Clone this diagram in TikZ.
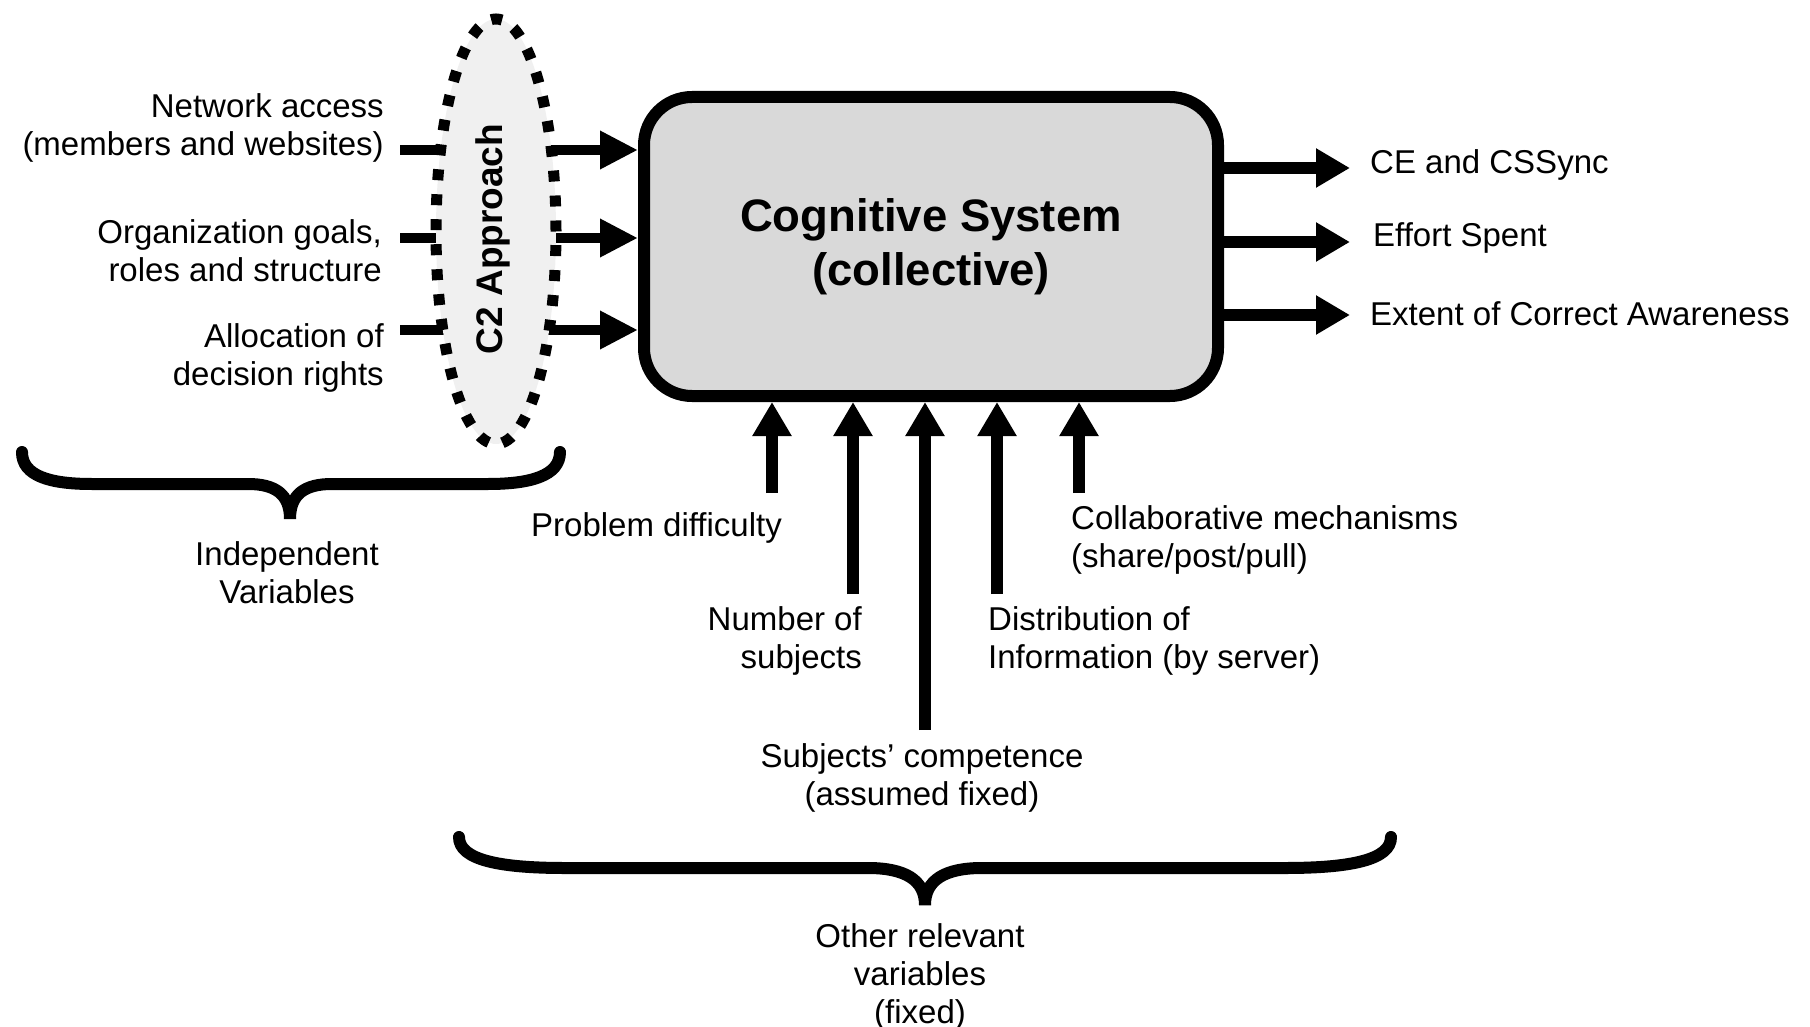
\documentclass[tikz,border=0pt]{standalone}
\usepackage{fontspec}
\setmainfont{Liberation Sans}
\usetikzlibrary{arrows.meta,shapes.geometric}
\definecolor{boxgray}{RGB}{217,217,217}
\definecolor{ellgray}{RGB}{240,240,240}
\begin{document}
\begin{tikzpicture}[x=1pt,y=-1pt,
  txt/.style={font=\fontsize{33}{38}\selectfont, inner sep=0pt},
  arr/.style={line width=12pt, -{Triangle[length=34pt,width=37pt]}},
  inarr/.style={line width=10pt, -{Triangle[length=38pt,width=36pt]}},
  bracepath/.style={line width=12pt, line cap=round},
  sysbox/.style={draw, line width=12pt, fill=boxgray, rounded corners=48pt,
    minimum width=574pt, minimum height=299pt, inner sep=0pt, align=center,
    font=\bfseries\fontsize{45.5}{54}\selectfont},
  c2ell/.style={draw, ellipse, line width=11pt, dash pattern=on 11pt off 14pt,
    fill=ellgray, minimum width=120pt, minimum height=425pt, inner sep=0pt}]
\useasboundingbox (0,0) rectangle (1810,1027);

% central box
\node[sysbox] (cs) at (931,246.5) {Cognitive System\\(collective)};

% left inputs
\node[txt, anchor=east, align=right] (n1) at (384,128) {Network access\\(members and websites)};
\node[txt, anchor=east, align=right] (n2) at (382,251) {Organization goals,\\roles and structure};
\node[txt, anchor=east, align=right] (n3) at (384,358) {Allocation of\\decision rights};
\coordinate (a1) at (400,150);
\coordinate (a2) at (400,238);
\coordinate (a3) at (400,330);
\draw[inarr] (a1) -- (a1 -| cs.west);
\draw[inarr] (a2) -- (a2 -| cs.west);
\draw[inarr] (a3) -- (a3 -| cs.west);

% C2 approach ellipse
\node[c2ell] (c2) at (496,231.5) {};
\node[rotate=90, inner sep=0pt, font=\bfseries\fontsize{37}{42}\selectfont] (c2t) at (493,239) {C2 Approach};

% outputs
\coordinate (r1) at (1350,168);
\coordinate (r2) at (1350,242);
\coordinate (r3) at (1350,315);
\draw[arr] (r1 -| cs.east) -- (r1);
\draw[arr] (r2 -| cs.east) -- (r2);
\draw[arr] (r3 -| cs.east) -- (r3);
\node[txt, anchor=west] (o1) at (1370,165) {CE and CSSync};
\node[txt, anchor=west] (o2) at (1373,238) {Effort Spent};
\node[txt, anchor=west] (o3) at (1370,314) {Extent of Correct Awareness};

% bottom inputs
\coordinate (b1) at (772,493);
\coordinate (b2) at (853,594);
\coordinate (b3) at (925,730);
\coordinate (b4) at (997,594);
\coordinate (b5) at (1079,493);
\draw[arr] (b1) -- (b1 |- cs.south);
\draw[arr] (b2) -- (b2 |- cs.south);
\draw[arr] (b3) -- (b3 |- cs.south);
\draw[arr] (b4) -- (b4 |- cs.south);
\draw[arr] (b5) -- (b5 |- cs.south);

\node[txt, anchor=west] (pd) at (531,528) {Problem difficulty};
\node[txt, anchor=west, align=left] (cm) at (1071,540) {Collaborative mechanisms\\(share/post/pull)};
\node[txt, anchor=east, align=right] (ns) at (862,641) {Number of\\subjects};
\node[txt, anchor=west, align=left] (di) at (988,641) {Distribution of\\Information (by server)};
\node[txt, align=center] (sc) at (922,778) {Subjects’ competence\\(assumed fixed)};

% braces
\draw[bracepath] (22,452) .. controls (22,476) and (50,484) .. (92,484) -- (248,484)
  .. controls (275,484) and (290,494) .. (290,519)
  .. controls (290,494) and (305,484) .. (332,484) -- (488,484)
  .. controls (530,484) and (560,476) .. (560,452);
\node[txt, align=center] (iv) at (287,573) {Independent\\Variables};

\draw[bracepath] (459,837) .. controls (459,860) and (500,868) .. (565,868) -- (868,868)
  .. controls (905,868) and (925,880) .. (925,905)
  .. controls (925,880) and (945,868) .. (982,868) -- (1285,868)
  .. controls (1350,868) and (1391,860) .. (1391,837);
\node[txt, align=center] (orv) at (920,977) {Other relevant\\variables\\(fixed)};
\end{tikzpicture}
\end{document}
